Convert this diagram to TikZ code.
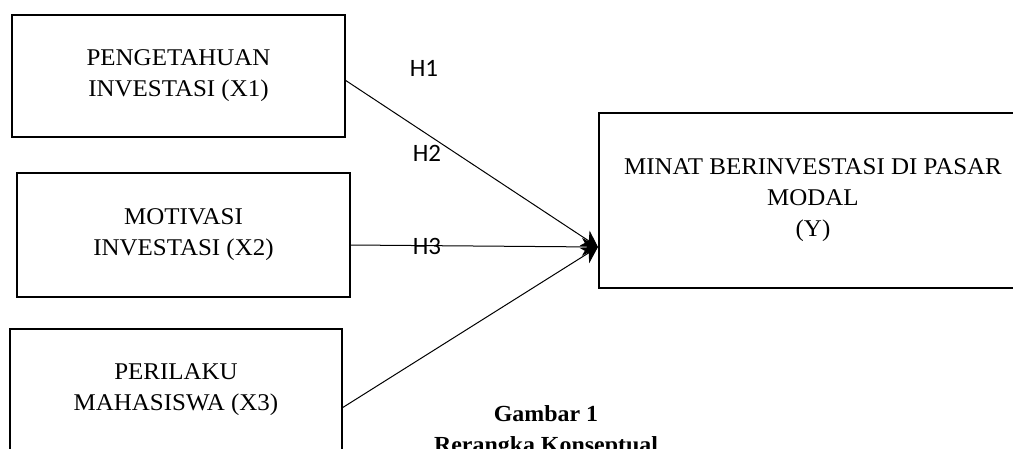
\documentclass[tikz,border=0pt]{standalone}
\usepackage{fontspec}
\setmainfont{Liberation Serif}[FakeStretch=1.04]
\newfontfamily\hfont{Carlito}
\usetikzlibrary{arrows.meta}
\begin{document}
\begin{tikzpicture}[x=1pt,y=-1pt,
  varbox/.style={draw=black, line width=2.3pt, rectangle, inner sep=0pt, outer sep=0pt,
    align=center, font=\fontsize{24}{31}\selectfont},
  conn/.style={line width=1pt, -{Stealth[length=16pt,width=18pt,inset=5pt]}},
  hlab/.style={font=\hfont\fontsize{25}{30}\selectfont, inner sep=0pt},
  captext/.style={font=\fontsize{23}{28}\selectfont\bfseries, inner sep=0pt, anchor=base}]
\useasboundingbox (0,0) rectangle (1013,448);
\clip (0,0) rectangle (1013,448);
\fill[white] (0,0) rectangle (1013,448);

\node[varbox, minimum width=333pt, minimum height=122pt] (x1) at (178.5,76) {PENGETAHUAN\\INVESTASI (X1)};
\node[varbox, minimum width=333pt, minimum height=124pt] (x2) at (183.5,235) {MOTIVASI\\INVESTASI (X2)};
\node[varbox, minimum width=332pt, minimum height=122pt] (x3) at (176,390) {PERILAKU\\MAHASISWA (X3)};
\node[varbox, minimum width=428pt, minimum height=175pt] (y) at (813,200.5) {MINAT BERINVESTASI DI PASAR\\MODAL\\(Y)};

\coordinate (tip) at (598,247);

\draw[conn] ([yshift=-4pt]x1.east) -- (tip);
\draw[conn] ([yshift=-10pt]x2.east) -- (tip);
\draw[conn] ([yshift=-18pt]x3.east) -- (tip);

\node[hlab] (h1) at (424,68) {H1};
\node[hlab] (h2) at (427,153) {H2};
\node[hlab] (h3) at (427,246) {H3};

\node[captext] (cap1) at (546,421) {Gambar 1};
\node[captext] (cap2) at (546,452) {Rerangka Konseptual};
\end{tikzpicture}
\end{document}
